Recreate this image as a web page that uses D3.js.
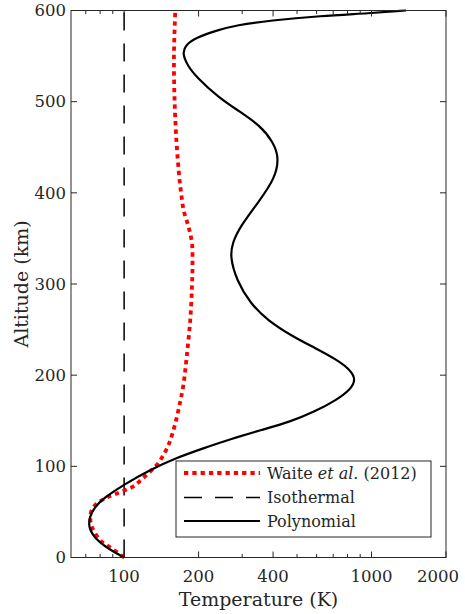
<!DOCTYPE html>
<html>
<head>
<meta charset="utf-8">
<script src="https://cdn.jsdelivr.net/npm/d3@7"></script>
<style>
body { margin: 0; background: #fff; }
text { font-family: "DejaVu Serif", serif; fill: #262626; }
</style>
</head>
<body>
<div id="chart"></div>
<script>
// altitude (km) / temperature (K) profiles
var polyAlt  = [0, 6, 12, 20, 32, 45, 55, 65, 80, 96, 110, 120, 130, 140, 149, 160, 173, 184, 195, 206, 217, 230, 242, 260, 279, 304, 330, 345, 363, 392, 415, 438, 456, 474, 490, 505, 527, 540, 553, 562, 570, 578, 584, 589, 594, 597, 600];
var polyTemp = [100, 91, 84, 77, 71.7, 72.5, 76, 82.5, 100, 127, 165, 210, 270, 360, 470, 590, 724, 820, 866, 820, 724, 590, 483, 380, 323, 285, 268, 274, 294, 354, 405, 424, 400, 354, 290, 240, 196, 180, 172, 177, 195, 235, 285, 389, 620, 985, 1378];

var waiteAlt  = [0, 10, 19, 34, 45, 52, 59, 65, 70, 78, 86, 94, 103, 115, 125, 134, 147, 169, 191, 220, 260, 297, 320, 345, 363, 381, 400, 418, 454, 500, 550, 600];
var waiteTemp = [100, 89, 80, 74, 73, 74, 77.5, 84, 93, 109, 118, 127, 137, 146, 152, 156, 161, 168, 174, 179, 185, 188, 189, 188, 182, 174, 170, 167, 163, 160, 159, 161];

var isoAlt  = [0, 600];
var isoTemp = [100, 100];

var xTicks = [100, 200, 400, 1000, 2000];
var xMinor = [70, 80, 90, 300, 500, 600, 700, 800, 900];
var yTicks = [0, 100, 200, 300, 400, 500, 600];

var width = 465, height = 614;
var plotLeft = 71, plotRight = 446, plotTop = 10.5, plotBottom = 557.5;
var axisColor = "#262626";

var svg = d3.select("#chart")
    .append("svg")
    .attr("width", width)
    .attr("height", height);

var x = d3.scaleLog().domain([61, 2000]).range([plotLeft, plotRight]);
var y = d3.scaleLinear().domain([0, 600]).range([plotBottom, plotTop]);

function zipData(alt, temp) {
    return alt.map(function(a, i) { return {alt: a, t: temp[i]}; });
}

function profileLine(curve) {
    return d3.line()
        .x(function(d) { return x(d.t); })
        .y(function(d) { return y(d.alt); })
        .curve(curve);
}

var plot = svg.append("g");

// isothermal (dashed)
plot.append("path")
    .datum(zipData(isoAlt, isoTemp))
    .attr("d", profileLine(d3.curveLinear))
    .attr("fill", "none")
    .attr("stroke", "#000")
    .attr("stroke-width", 1.5)
    .attr("stroke-dasharray", "18,13");

// Waite et al. (dotted red)
plot.append("path")
    .datum(zipData(waiteAlt, waiteTemp))
    .attr("d", profileLine(d3.curveCatmullRom.alpha(0.5)))
    .attr("fill", "none")
    .attr("stroke", "#ff0000")
    .attr("stroke-width", 3.8)
    .attr("stroke-dasharray", "4.3,4");

// polynomial (solid), b-spline so the read points give a smooth curve
plot.append("path")
    .datum(zipData(polyAlt, polyTemp))
    .attr("d", profileLine(d3.curveBasis))
    .attr("fill", "none")
    .attr("stroke", "#000")
    .attr("stroke-width", 2.2);

// box + inward ticks
var axes = svg.append("g")
    .attr("stroke", axisColor)
    .attr("stroke-width", 1);

axes.append("rect")
    .attr("x", plotLeft).attr("y", plotTop)
    .attr("width", plotRight - plotLeft).attr("height", plotBottom - plotTop)
    .attr("fill", "none");

function xTick(v, len) {
    axes.append("line").attr("x1", x(v)).attr("x2", x(v)).attr("y1", plotBottom).attr("y2", plotBottom - len);
    axes.append("line").attr("x1", x(v)).attr("x2", x(v)).attr("y1", plotTop).attr("y2", plotTop + len);
}
xTicks.forEach(function(v) { xTick(v, 6); });
xMinor.forEach(function(v) { xTick(v, 3.5); });

yTicks.forEach(function(v) {
    axes.append("line").attr("x1", plotLeft).attr("x2", plotLeft + 6).attr("y1", y(v)).attr("y2", y(v));
    axes.append("line").attr("x1", plotRight).attr("x2", plotRight - 6).attr("y1", y(v)).attr("y2", y(v));
});

// tick labels (last one pulled in so it stays on the page)
svg.append("g").selectAll("text")
    .data(xTicks)
    .enter().append("text")
    .attr("x", function(d, i) { return i === xTicks.length - 1 ? 459 : x(d); })
    .attr("y", 582)
    .attr("text-anchor", function(d, i) { return i === xTicks.length - 1 ? "end" : "middle"; })
    .style("font-size", "16.5px")
    .text(function(d) { return d; });

svg.append("g").selectAll("text")
    .data(yTicks)
    .enter().append("text")
    .attr("x", 66)
    .attr("y", function(d) { return y(d); })
    .attr("dy", "0.35em")
    .attr("text-anchor", "end")
    .style("font-size", "16.5px")
    .text(function(d) { return d; });

// axis titles
svg.append("text")
    .attr("x", (plotLeft + plotRight) / 2)
    .attr("y", 606)
    .attr("text-anchor", "middle")
    .style("font-size", "19px")
    .text("Temperature (K)");

svg.append("text")
    .attr("transform", "translate(28," + ((plotTop + plotBottom) / 2) + ") rotate(-90)")
    .attr("text-anchor", "middle")
    .style("font-size", "19px")
    .text("Altitude (km)");

// legend
var legend = svg.append("g");
legend.append("rect")
    .attr("x", 176).attr("y", 461)
    .attr("width", 255).attr("height", 76)
    .attr("fill", "#fff")
    .attr("stroke", axisColor)
    .attr("stroke-width", 1);

var legendRows = [
    {y: 473, stroke: "#ff0000", w: 3.8, dash: "4.3,4"},
    {y: 497.5, stroke: "#000", w: 1.5, dash: "18,13"},
    {y: 521, stroke: "#000", w: 2.2, dash: null}
];
legendRows.forEach(function(r) {
    legend.append("line")
        .attr("x1", 184).attr("x2", 260)
        .attr("y1", r.y).attr("y2", r.y)
        .attr("stroke", r.stroke)
        .attr("stroke-width", r.w)
        .attr("stroke-dasharray", r.dash);
});

var t1 = legend.append("text").attr("x", 267).attr("y", 473).attr("dy", "0.35em").style("font-size", "16px");
t1.append("tspan").text("Waite ");
t1.append("tspan").style("font-style", "italic").text("et al.");
t1.append("tspan").text(" (2012)");
legend.append("text").attr("x", 267).attr("y", 497.5).attr("dy", "0.35em").style("font-size", "16px").text("Isothermal");
legend.append("text").attr("x", 267).attr("y", 521).attr("dy", "0.35em").style("font-size", "16px").text("Polynomial");
</script>
</body>
</html>
